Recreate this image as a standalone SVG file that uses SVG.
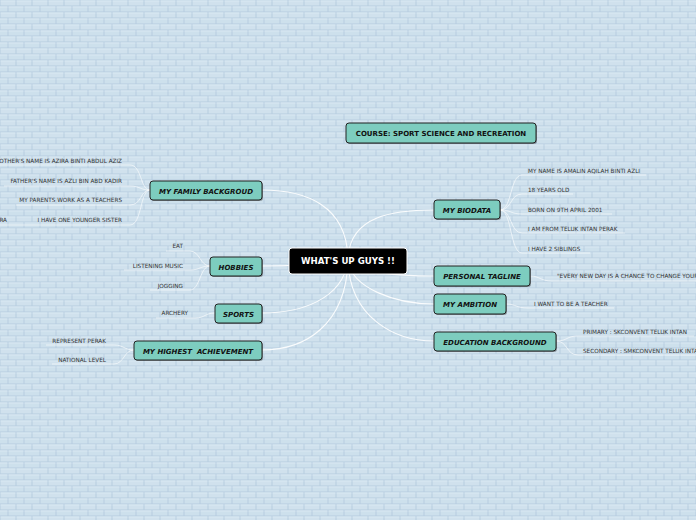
<svg xmlns="http://www.w3.org/2000/svg" width="696" height="520" viewBox="0 0 696 520">
<defs>
<pattern id="brick" width="16" height="12" patternUnits="userSpaceOnUse">
<rect width="16" height="12" fill="#b7cde0"/>
<rect x="0.5" y="0.5" width="15" height="5" fill="#d0e1ed"/>
<rect x="-7.5" y="6.5" width="15" height="5" fill="#cde0ec"/>
<rect x="8.5" y="6.5" width="15" height="5" fill="#cde0ec"/>
<rect x="0.5" y="0.5" width="15" height="1" fill="#dae9f3"/>
<rect x="-7.5" y="6.5" width="15" height="1" fill="#dae9f3"/>
<rect x="8.5" y="6.5" width="15" height="1" fill="#dae9f3"/>
</pattern>
</defs>
<style>
.node rect.box{fill:#7dcdbf;stroke:#222;stroke-width:1}
.node rect.sh{fill:#000;opacity:0.35}
.nt{font-family:"DejaVu Sans",Verdana,sans-serif;font-weight:bold;font-style:italic;font-size:7px;fill:#111;text-anchor:middle}
.up{font-style:normal}
.leaf{font-family:"DejaVu Sans",Verdana,sans-serif;font-size:5.7px;fill:#333}
.r{text-anchor:end}
.main{fill:none;stroke:#ffffff;stroke-width:1.1;opacity:0.9}
.sub{fill:none;stroke:#ffffff;stroke-width:0.8;opacity:0.75}
</style>
<rect width="696" height="520" fill="url(#brick)"/>
<g id="connectors">
<path class="main" d="M348,261 C348,215 395,210 434,210"/>
<path class="main" d="M348,261 C348,205 305,190 262,190"/>
<path class="main" d="M348,261 C320,264 290,266 262,266"/>
<path class="main" d="M348,261 C342,300 300,313 262,313"/>
<path class="main" d="M348,261 C346,325 305,350 262,350"/>
<path class="main" d="M348,261 C356,272 395,276 434,276"/>
<path class="main" d="M348,261 C352,288 395,304 434,304"/>
<path class="main" d="M348,261 C350,318 395,341 434,341"/>
<path class="sub" d="M500,210 C512,210 510,175 522,175 H646"/>
<path class="sub" d="M500,210 C512,210 510,194 522,194 H573"/>
<path class="sub" d="M500,210 C512,210 510,214 522,214 H612"/>
<path class="sub" d="M500,210 C512,210 510,233 522,233 H625"/>
<path class="sub" d="M500,210 C512,210 510,253 522,253 H590"/>
<path class="sub" d="M530,276 C540,276 540,281 552,281 H696"/>
<path class="sub" d="M506,304 C516,304 516,308 528,308 H614"/>
<path class="sub" d="M556,341 C568,341 566,336 578,336 H694"/>
<path class="sub" d="M556,341 C568,341 566,355 578,355 H696"/>
<path class="sub" d="M150,190 C140,190 142,165 130,165 H0"/>
<path class="sub" d="M150,190 C140,190 140,186 130,186 H4"/>
<path class="sub" d="M150,190 C140,190 142,205 130,205 H16"/>
<path class="sub" d="M150,190 C140,190 142,225 130,225 H0"/>
<path class="sub" d="M210,266 C200,266 200,251 190,251 H166"/>
<path class="sub" d="M210,266 C200,266 200,270 190,270 H124"/>
<path class="sub" d="M210,266 C200,266 200,290 190,290 H150"/>
<path class="sub" d="M215,313 C205,313 205,318 195,318 H156"/>
<path class="sub" d="M134,350 C124,350 124,345 114,345 H46"/>
<path class="sub" d="M134,350 C124,350 124,364 114,364 H52"/>
</g>
<g id="center">
<rect x="289" y="248" width="118" height="26" rx="3" fill="#000" stroke="#fff" stroke-width="1"/>
<text x="348" y="264" font-family="DejaVu Sans,Verdana,sans-serif" font-weight="bold" font-size="8.6px" fill="#fff" text-anchor="middle">WHAT'S UP GUYS !!</text>
</g>
<g id="course" class="node">
<rect class="sh" x="347" y="124" width="190" height="20" rx="3"/>
<rect class="box" x="346" y="123" width="190" height="20" rx="3"/>
<text class="nt up" x="441" y="136">COURSE: SPORT SCIENCE AND RECREATION</text>
</g>
<g id="biodata" class="node">
<rect class="sh" x="435" y="201" width="66" height="19" rx="3"/>
<rect class="box" x="434" y="200" width="66" height="19" rx="3"/>
<text class="nt" x="467" y="212.5">MY BIODATA</text>
</g>
<g id="tagline" class="node">
<rect class="sh" x="435" y="267" width="96" height="20" rx="3"/>
<rect class="box" x="434" y="266" width="96" height="20" rx="3"/>
<text class="nt" x="482" y="279">PERSONAL TAGLINE</text>
</g>
<g id="ambition" class="node">
<rect class="sh" x="435" y="295" width="72" height="20" rx="3"/>
<rect class="box" x="434" y="294" width="72" height="20" rx="3"/>
<text class="nt" x="470" y="307">MY AMBITION</text>
</g>
<g id="education" class="node">
<rect class="sh" x="435" y="333" width="122" height="19" rx="3"/>
<rect class="box" x="434" y="332" width="122" height="19" rx="3"/>
<text class="nt" x="495" y="344.5">EDUCATION BACKGROUND</text>
</g>
<g id="family" class="node">
<rect class="sh" x="151" y="182" width="112" height="19" rx="3"/>
<rect class="box" x="150" y="181" width="112" height="19" rx="3"/>
<text class="nt" x="206" y="193.5">MY FAMILY BACKGROUD</text>
</g>
<g id="hobbies" class="node">
<rect class="sh" x="211" y="258" width="52" height="19" rx="3"/>
<rect class="box" x="210" y="257" width="52" height="19" rx="3"/>
<text class="nt" x="236" y="269.5">HOBBIES</text>
</g>
<g id="sports" class="node">
<rect class="sh" x="216" y="305" width="47" height="19" rx="3"/>
<rect class="box" x="215" y="304" width="47" height="19" rx="3"/>
<text class="nt" x="238.5" y="316.5">SPORTS</text>
</g>
<g id="achievement" class="node">
<rect class="sh" x="135" y="342" width="128" height="19" rx="3"/>
<rect class="box" x="134" y="341" width="128" height="19" rx="3"/>
<text class="nt" x="198" y="353.5" xml:space="preserve">MY HIGHEST  ACHIEVEMENT</text>
</g>
<g id="leaves">
<text class="leaf" x="528" y="173">MY NAME IS AMALIN AQILAH BINTI AZLI</text>
<text class="leaf" x="528" y="192">18 YEARS OLD</text>
<text class="leaf" x="528" y="212">BORN ON 9TH APRIL 2001</text>
<text class="leaf" x="528" y="231">I AM FROM TELUK INTAN PERAK</text>
<text class="leaf" x="528" y="251">I HAVE 2 SIBLINGS</text>
<text class="leaf" x="557" y="278">"EVERY NEW DAY IS A CHANCE TO CHANGE YOUR</text>
<text class="leaf" x="534" y="306">I WANT TO BE A TEACHER</text>
<text class="leaf" x="583" y="334">PRIMARY : SKCONVENT TELUK INTAN</text>
<text class="leaf" x="583" y="353">SECONDARY : SMKCONVENT TELUK INTAN</text>
<text class="leaf r" x="122" y="163">MOTHER'S NAME IS AZIRA BINTI ABDUL AZIZ</text>
<text class="leaf r" x="122" y="183">FATHER'S NAME IS AZLI BIN ABD KADIR</text>
<text class="leaf r" x="122" y="202">MY PARENTS WORK AS A TEACHERS</text>
<text class="leaf r" x="122" y="222">I HAVE ONE YOUNGER SISTER</text>
<text class="leaf r" x="7" y="222">RA</text>
<text class="leaf r" x="183" y="248">EAT</text>
<text class="leaf r" x="183" y="268">LISTENING MUSIC</text>
<text class="leaf r" x="183" y="288">JOGGING</text>
<text class="leaf r" x="188" y="315">ARCHERY</text>
<text class="leaf r" x="106" y="343">REPRESENT PERAK</text>
<text class="leaf r" x="106" y="362">NATIONAL LEVEL</text>
</g>
</svg>
